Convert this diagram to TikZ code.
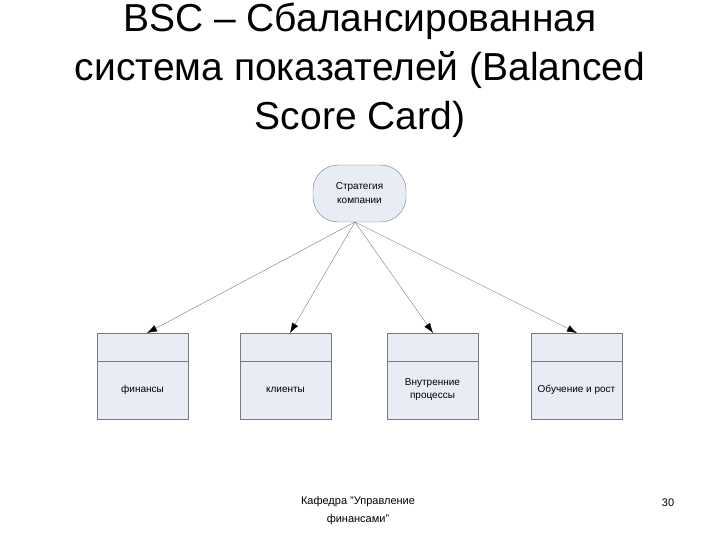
\documentclass[tikz,border=0pt]{standalone}
\usepackage{fontspec}
\setmainfont{Liberation Sans}
\usetikzlibrary{arrows.meta}
\definecolor{boxfill}{HTML}{E8ECF4}
\definecolor{linec}{HTML}{7A7A7A}
\begin{document}
\begin{tikzpicture}[x=1pt,y=-1pt,
  box/.style={draw=linec,fill=boxfill,minimum width=91pt,minimum height=58pt,inner sep=1pt,align=center,font=\fontsize{10}{13}\selectfont},
  boxtop/.style={draw=linec,fill=boxfill,minimum width=91pt,minimum height=28pt},
  arr/.style={draw=linec,-{Latex[length=10pt,width=7pt,color=black]}}]
\useasboundingbox (0,0) rectangle (720,540);
\node[font=\fontsize{39}{49}\selectfont,align=center,inner sep=0pt] (title) at (360,70) {BSC – Сбалансированная\\система показателей (Balanced\\Score Card)};
\node[draw=linec,fill=boxfill,rounded corners=25pt,minimum width=93pt,minimum height=57pt,align=center,font=\fontsize{10}{14}\selectfont] (top) at (359.5,193.5) {Стратегия\\компании};
\foreach \n/\x/\t in {a/142.5/финансы,b/285.5/клиенты,c/432.5/{Внутренние\\процессы},d/576.5/{Обучение и рост}}{
  \node[boxtop] (\n t) at (\x,347.5) {};
  \node[box] (\n) at (\x,390) {\t};
}
\coordinate (s) at (355,222);
\draw[arr] (s) -- (147,333);
\draw[arr] (s) -- (290,333);
\draw[arr] (s) -- (433,333);
\draw[arr] (s) -- (577,333);
\node[font=\fontsize{11}{18}\selectfont,align=center] (foot) at (358,511) {Кафедра "Управление\\финансами"};
\node[font=\fontsize{11}{13}\selectfont] (num) at (668,503) {30};
\end{tikzpicture}
\end{document}
